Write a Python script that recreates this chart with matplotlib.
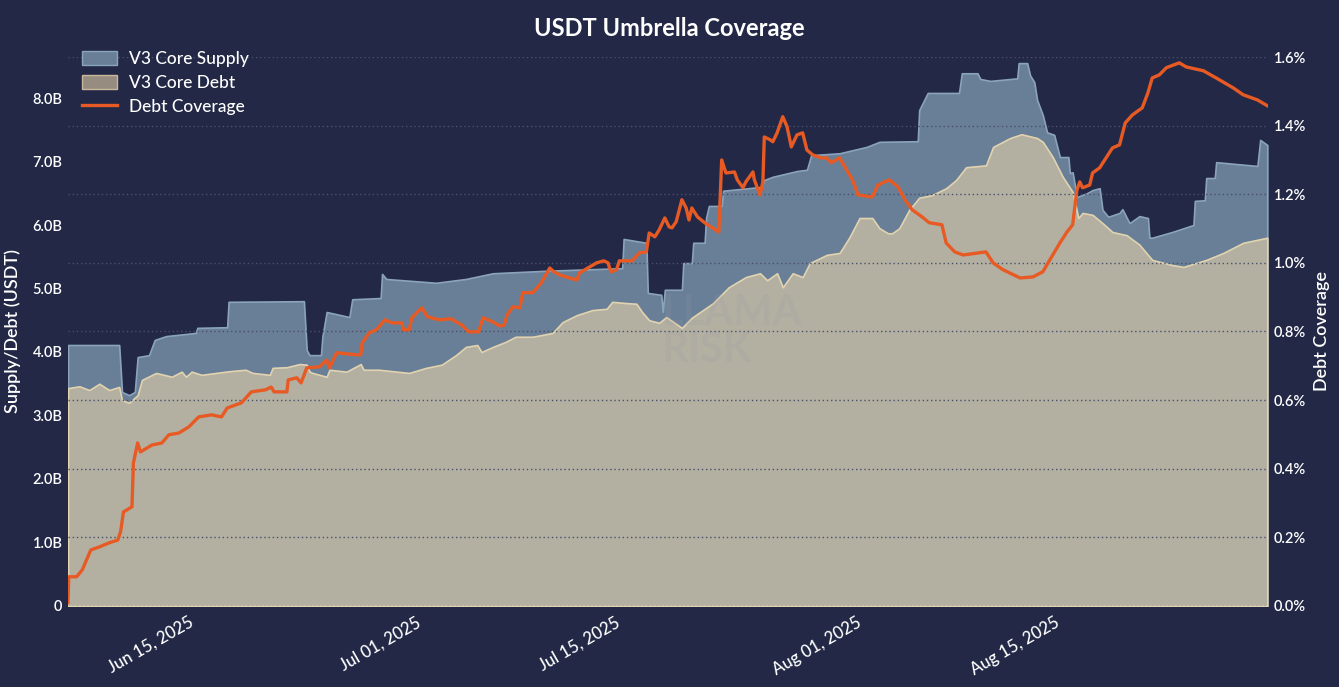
import pandas as pd
import matplotlib.pyplot as plt
import matplotlib.dates as mdates
from matplotlib.patches import Patch
from matplotlib.lines import Line2D
from matplotlib.ticker import FuncFormatter

# days since 2025-06-06 and values (billions USDT / percent)
supply_days = [0, 3.6, 3.8, 4.3, 4.7, 4.9, 5.7, 6.1, 6.9, 9.0, 9.1, 11.2, 11.3, 16.6, 16.8, 17.0,
               17.8, 17.9, 18.2, 19.8, 20.0, 22.0, 22.1, 22.4, 25.9, 28.0, 29.9, 33.7, 39.0, 39.1,
               40.7, 40.8, 41.75, 41.85, 42.0, 43.2, 43.3, 43.9, 44.0, 44.8, 44.9, 45.1, 46.0, 46.1,
               48.8, 49.0, 49.6, 51.3, 52.0, 52.3, 54.3, 56.2, 57.1, 59.8, 59.9, 60.5, 62.7, 62.9,
               64.0, 64.2, 64.9, 66.8, 66.9, 67.5, 67.7, 68.0, 68.2, 68.6, 68.9, 69.4, 69.8, 70.4,
               70.5, 70.7, 71.0, 71.7, 72.1, 72.6, 72.8, 73.2, 74.0, 74.2, 74.7, 75.4, 76.0, 76.1,
               76.3, 77.7, 79.2, 79.3, 80.0, 80.1, 80.7, 80.8, 83.7, 83.9, 84.4]
supply = [4.11, 4.11, 3.37, 3.32, 3.37, 3.92, 3.95, 4.19, 4.25, 4.30, 4.38, 4.39, 4.79, 4.80, 4.03, 3.95,
          3.95, 4.24, 4.63, 4.55, 4.83, 4.85, 5.23, 5.15, 5.09, 5.15, 5.24, 5.28, 5.32, 5.78,
          5.72, 4.93, 4.90, 4.63, 4.98, 4.98, 5.40, 5.40, 5.72, 5.72, 6.11, 6.30, 6.30, 6.54,
          6.60, 6.71, 6.76, 6.85, 6.87, 7.10, 7.13, 7.23, 7.31, 7.32, 7.81, 8.08, 8.08, 8.39,
          8.39, 8.30, 8.27, 8.31, 8.55, 8.55, 8.36, 8.25, 7.97, 7.73, 7.46, 7.42, 7.07, 7.07,
          6.82, 6.83, 6.44, 6.50, 6.55, 6.58, 6.24, 6.13, 6.19, 6.25, 6.03, 6.14, 6.11, 5.80,
          5.80, 5.89, 6.00, 6.38, 6.39, 6.74, 6.74, 6.99, 6.93, 7.34, 7.26]

debt_days = [0, 0.8, 1.5, 2.2, 2.9, 3.6, 3.8, 4.3, 4.9, 5.2, 6.2, 7.3, 8.0, 8.3, 8.7, 9.4, 11.1, 11.5,
             12.5, 13.0, 14.2, 14.4, 15.4, 16.3, 16.8, 17.0, 17.2, 18.2, 18.4, 19.6, 20.6, 20.8,
             21.9, 24.0, 25.2, 26.3, 27.3, 28.0, 28.8, 29.1, 29.9, 30.8, 31.5, 32.7, 34.1, 34.8,
             35.8, 36.9, 37.9, 38.3, 39.3, 40.0, 40.4, 40.9, 41.6, 42.1, 43.2, 43.9, 45.4, 46.5,
             47.7, 48.7, 49.2, 49.9, 50.3, 51.0, 51.7, 52.2, 53.4, 54.3, 55.0, 55.7, 56.6, 57.1,
             57.7, 58.0, 58.5, 59.2, 59.9, 60.8, 61.8, 62.5, 63.2, 64.6, 65.1, 66.3, 67.1, 68.2,
             68.6, 69.3, 70.0, 70.7, 71.1, 71.4, 72.1, 72.8, 73.5, 74.5, 75.4, 76.3, 77.7, 78.5,
             80.1, 81.3, 82.7, 84.4]
debt = [3.43, 3.46, 3.40, 3.50, 3.40, 3.45, 3.24, 3.20, 3.32, 3.56, 3.67, 3.61, 3.69, 3.61, 3.69, 3.64, 3.69, 3.70,
        3.72, 3.67, 3.64, 3.75, 3.76, 3.81, 3.80, 3.69, 3.67, 3.61, 3.72, 3.69, 3.81, 3.72,
        3.72, 3.67, 3.75, 3.80, 3.95, 4.08, 4.11, 4.00, 4.08, 4.16, 4.24, 4.24, 4.30, 4.47,
        4.58, 4.66, 4.68, 4.79, 4.77, 4.76, 4.63, 4.50, 4.46, 4.55, 4.38, 4.54, 4.77, 5.02,
        5.18, 5.24, 5.13, 5.24, 5.02, 5.24, 5.18, 5.40, 5.53, 5.56, 5.81, 6.11, 6.11, 5.95,
        5.87, 5.87, 5.95, 6.24, 6.43, 6.47, 6.58, 6.71, 6.91, 6.94, 7.23, 7.37, 7.43, 7.37,
        7.31, 7.07, 6.76, 6.52, 6.11, 6.19, 6.16, 6.03, 5.89, 5.84, 5.69, 5.45, 5.37, 5.34,
        5.45, 5.56, 5.72, 5.80]

cov_days = [0, 0.05, 0.6, 1.0, 1.3, 1.6, 2.2, 2.9, 3.5, 3.7, 3.9, 4.5, 4.6, 4.9, 5.1, 5.9, 6.6, 7.1,
            7.8, 8.5, 9.2, 10.1, 10.8, 11.2, 12.2, 12.9, 13.9, 14.3, 14.5, 15.4, 15.5, 16.1, 16.4,
            16.8, 17.7, 18.2, 18.4, 18.9, 20.3, 20.6, 20.7, 21.2, 21.7, 22.3, 22.8, 23.5, 23.6,
            24.0, 24.2, 24.6, 24.9, 25.3, 26.1, 27.0, 27.3, 27.7, 28.2, 28.9, 29.2, 29.9, 30.4,
            30.7, 30.9, 31.3, 31.8, 32.0, 32.7, 33.0, 33.3, 33.5, 33.9, 34.2, 34.6, 35.3, 35.8,
            36.0, 36.7, 37.2, 37.7, 38.0, 38.2, 38.6, 38.8, 39.7, 40.2, 40.7, 40.9, 41.3, 41.6,
            42.0, 42.3, 42.5, 42.8, 43.2, 43.5, 43.7, 43.9, 44.3, 44.8, 45.8, 46.0, 46.3, 46.9,
            47.1, 47.5, 47.7, 48.2, 48.3, 48.7, 48.9, 49.0, 49.4, 49.6, 49.9, 50.3, 50.6, 50.9,
            51.3, 51.7, 52.0, 52.4, 53.0, 53.4, 53.7, 54.3, 54.8, 55.2, 55.6, 56.6, 57.0, 57.8,
            58.4, 58.9, 59.4, 60.1, 60.6, 61.5, 61.8, 62.4, 63.0, 64.6, 65.1, 65.8, 67.0, 67.9,
            68.6, 69.1, 69.8, 70.3, 70.7, 71.0, 71.2, 71.4, 71.9, 72.1, 72.6, 73.1, 73.5, 74.0,
            74.4, 74.9, 75.6, 76.0, 76.3, 76.8, 77.3, 78.2, 78.7, 79.9, 80.8, 82.0, 82.7, 83.7,
            84.4]
coverage = [0.009, 0.085, 0.085, 0.105, 0.134, 0.163, 0.172, 0.184, 0.192, 0.216, 0.274, 0.289, 0.417, 0.475,
            0.449, 0.469, 0.475, 0.499, 0.504, 0.522, 0.551, 0.557, 0.551, 0.577, 0.592, 0.624, 0.630,
            0.638, 0.624, 0.624, 0.659, 0.665, 0.650, 0.694, 0.697, 0.717, 0.694, 0.738, 0.732, 0.732,
            0.767, 0.796, 0.805, 0.834, 0.825, 0.825, 0.805, 0.805, 0.840, 0.857, 0.869, 0.843, 0.834,
            0.837, 0.828, 0.819, 0.799, 0.799, 0.840, 0.828, 0.816, 0.819, 0.848, 0.872, 0.869, 0.913,
            0.913, 0.927, 0.942, 0.956, 0.985, 0.974, 0.965, 0.956, 0.950, 0.971, 0.988, 1.000, 1.006,
            1.000, 0.974, 0.980, 1.006, 1.006, 1.029, 1.032, 1.087, 1.076, 1.096, 1.131, 1.105, 1.102,
            1.120, 1.184, 1.160, 1.125, 1.160, 1.134, 1.117, 1.090, 1.300, 1.262, 1.265, 1.242, 1.219,
            1.236, 1.265, 1.242, 1.198, 1.236, 1.367, 1.359, 1.353, 1.379, 1.426, 1.397, 1.338, 1.373,
            1.379, 1.329, 1.315, 1.306, 1.306, 1.292, 1.306, 1.271, 1.242, 1.198, 1.192, 1.227, 1.242,
            1.222, 1.184, 1.155, 1.134, 1.117, 1.111, 1.058, 1.032, 1.023, 1.032, 1.000, 0.980, 0.956,
            0.959, 0.974, 1.009, 1.058, 1.090, 1.111, 1.213, 1.236, 1.219, 1.227, 1.262, 1.277, 1.309,
            1.335, 1.344, 1.408, 1.431, 1.452, 1.496, 1.539, 1.548, 1.569, 1.583, 1.571, 1.560, 1.539,
            1.510, 1.490, 1.475, 1.458]

tick_dates = ['2025-06-15', '2025-07-01', '2025-07-15', '2025-08-01', '2025-08-15']

start = pd.Timestamp('2025-06-06')
def to_dt(days):
    return start + pd.to_timedelta(days, unit='D')

bg = '#222846'
plt.rcParams['font.family'] = ['Lato', 'DejaVu Sans']

fig = plt.figure(figsize=(13.39, 6.87), dpi=100, facecolor=bg)
ax1 = fig.add_axes([0.0508, 0.118, 0.8962, 0.799])
ax1.set_facecolor(bg)
ax2 = ax1.twinx()

ax1.fill_between(to_dt(supply_days), [v * 1e9 for v in supply], color='#687f97',
                 edgecolor='#8ba4bb', linewidth=1.2, zorder=1)
ax1.fill_between(to_dt(debt_days), [v * 1e9 for v in debt], color='#b3b0a2',
                 edgecolor='#e2d3b0', linewidth=1.2, zorder=2)
ax2.plot(to_dt(cov_days), coverage, color='#e85a24', linewidth=2.4, zorder=5)

# watermark
ax1.text(0.495, 0.50, 'LLAMA\nRISK', transform=ax1.transAxes, fontsize=30, fontweight='bold',
         color='#9a9aa4', alpha=0.18, ha='left', va='center', linespacing=0.95, zorder=3)

ax1.set_xlim(to_dt(0), to_dt(84.45))
ax1.set_ylim(0, 8.646e9)
ax2.set_ylim(0, 1.6)

ax1.set_yticks([i * 1e9 for i in range(9)])
ax1.yaxis.set_major_formatter(FuncFormatter(lambda v, p: '0' if v == 0 else f'{v / 1e9:.1f}B'))
ax2.set_yticks([i * 0.2 for i in range(9)])
ax2.yaxis.set_major_formatter(FuncFormatter(lambda v, p: f'{v:.1f}%'))

ax1.set_xticks(pd.to_datetime(tick_dates))
ax1.xaxis.set_major_formatter(mdates.DateFormatter('%b %d, %Y'))
for lab in ax1.get_xticklabels():
    lab.set_rotation(30)
    lab.set_ha('right')
    lab.set_fontweight('medium')

ax2.grid(axis='y', color='#4a5068', linestyle=(0, (1, 2)), linewidth=1)
ax1.grid(False)
for ax in (ax1, ax2):
    for s in ax.spines.values():
        s.set_visible(False)
    ax.tick_params(length=0, colors='white', labelsize=10.5)
ax1.tick_params(axis='x', labelsize=12, pad=6)
ax1.tick_params(axis='y', pad=4)
ax2.tick_params(axis='y', pad=4)
for lab in ax1.get_yticklabels() + ax2.get_yticklabels():
    lab.set_fontweight('semibold')

ax1.set_ylabel('Supply/Debt (USDT)', color='white', fontsize=13, labelpad=8, fontweight='semibold')
ax2.set_ylabel('Debt Coverage', color='white', fontsize=13, labelpad=6, fontweight='semibold')

fig.suptitle('USDT Umbrella Coverage', color='white', fontsize=17, fontweight='bold', y=0.975)

handles = [Patch(facecolor='#687f97', edgecolor='#8ba4bb', label='V3 Core Supply'),
           Patch(facecolor='#968c80', edgecolor='#c9b99b', label='V3 Core Debt'),
           Line2D([0], [0], color='#e85a24', linewidth=2.4, label='Debt Coverage')]
leg = ax2.legend(handles=handles, loc='upper left', frameon=False, fontsize=12.5,
                 labelcolor='white', bbox_to_anchor=(-0.001, 1.04), handlelength=2.0,
                 handleheight=0.9, handletextpad=0.7, labelspacing=0.45)
for t in leg.get_texts():
    t.set_fontweight('medium')

fig.savefig('out.png', dpi=100, facecolor=bg)
